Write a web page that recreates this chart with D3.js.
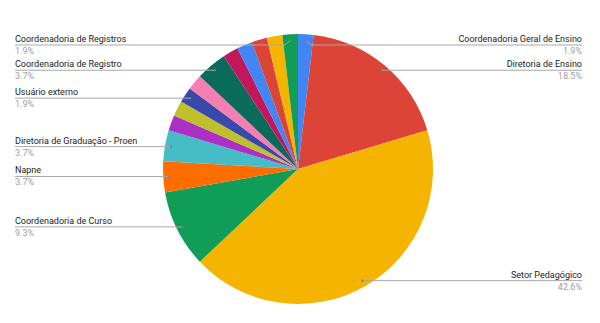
<!DOCTYPE html>
<html>
<head>
<meta charset="utf-8">
<script src="https://cdn.jsdelivr.net/npm/d3@7"></script>
<style>
  body { margin: 0; background: #fff; }
  svg { display: block; font-family: Roboto, Arial, sans-serif; }
</style>
</head>
<body>
<div id="chart"></div>
<script>
// categories in drawing order (clockwise from 12 o'clock)
const categories = [
  'Coordenadoria Geral de Ensino',
  'Diretoria de Ensino',
  'Setor Pedagógico',
  'Coordenadoria de Curso',
  'Napne',
  'Diretoria de Graduação - Proen',
  'Outro setor 1',
  'Outro setor 2',
  'Usuário externo',
  'Outro setor 3',
  'Coordenadoria de Registro',
  'Outro setor 4',
  'Outro setor 5',
  'Outro setor 6',
  'Outro setor 7',
  'Coordenadoria de Registros'
];
const counts = [1, 10, 23, 5, 2, 2, 1, 1, 1, 1, 2, 1, 1, 1, 1, 1];
const sliceColors = [
  '#4285F4', '#DB4437', '#F4B400', '#0F9D58', '#FF6D00', '#46BDC6',
  '#AB30C4', '#C0C02C', '#3949AB', '#F77EB3', '#0B6B5A', '#C2185B',
  '#4285F4', '#DB4437', '#F4B400', '#0F9D58'
];
// slices that carry an outside label
const labeled = [
  'Coordenadoria Geral de Ensino', 'Diretoria de Ensino', 'Setor Pedagógico',
  'Coordenadoria de Curso', 'Napne', 'Diretoria de Graduação - Proen',
  'Usuário externo', 'Coordenadoria de Registro', 'Coordenadoria de Registros'
];

const width = 600, height = 323;
const cx = 298, cy = 169, radius = 135;
const total = d3.sum(counts);

const data = categories.map(function(c, i) {
  return { name: c, value: counts[i], color: sliceColors[i] };
});

const svg = d3.select('#chart').append('svg')
  .attr('width', width)
  .attr('height', height);

const g = svg.append('g')
  .attr('transform', 'translate(' + cx + ',' + cy + ')');

const pie = d3.pie().sort(null).value(function(d) { return d.value; });
const arc = d3.arc().innerRadius(0).outerRadius(radius);
const arcs = pie(data);

g.selectAll('path')
  .data(arcs)
  .enter().append('path')
    .attr('d', arc)
    .attr('fill', function(d) { return d.data.color; });

// label layout
const dotR = radius * 0.955;
let labels = arcs.filter(function(d) { return labeled.indexOf(d.data.name) >= 0; })
  .map(function(d) {
    const a = (d.startAngle + d.endAngle) / 2;
    return {
      name: d.data.name,
      pct: (d.data.value / total * 100).toFixed(1) + '%',
      x: cx + dotR * Math.sin(a),
      y: cy - dotR * Math.cos(a),
      side: a < Math.PI ? 'right' : 'left'
    };
  });

['left', 'right'].forEach(function(side) {
  const items = labels.filter(function(l) { return l.side === side; })
    .sort(function(a, b) { return a.y - b.y; });
  let prev = -Infinity;
  items.forEach(function(l) {
    l.ly = Math.max(l.y, prev + 24, 45);
    prev = l.ly;
  });
});

const lg = svg.append('g');

lg.selectAll('path.leader')
  .data(labels)
  .enter().append('path')
    .attr('class', 'leader')
    .attr('fill', 'none')
    .attr('stroke', '#a8a8a8')
    .attr('stroke-width', 1)
    .attr('d', function(l) {
      const endX = l.side === 'left' ? 15 : 582;
      return 'M' + l.x + ',' + l.y + 'L' + (l.side === 'left' ? l.x - 6 : l.x + 6) + ',' + l.ly + 'L' + endX + ',' + l.ly;
    });

lg.selectAll('rect.dot')
  .data(labels)
  .enter().append('rect')
    .attr('class', 'dot')
    .attr('x', function(l) { return l.x - 1; })
    .attr('y', function(l) { return l.y - 1; })
    .attr('width', 2)
    .attr('height', 2)
    .attr('fill', '#7a7a7a');

lg.selectAll('text.name')
  .data(labels)
  .enter().append('text')
    .attr('class', 'name')
    .attr('x', function(l) { return l.side === 'left' ? 15 : 582; })
    .attr('y', function(l) { return l.ly - 3; })
    .attr('text-anchor', function(l) { return l.side === 'left' ? 'start' : 'end'; })
    .style('font-size', '9px')
    .style('fill', '#222')
    .text(function(l) { return l.name; });

lg.selectAll('text.pct')
  .data(labels)
  .enter().append('text')
    .attr('class', 'pct')
    .attr('x', function(l) { return l.side === 'left' ? 15 : 582; })
    .attr('y', function(l) { return l.ly + 9; })
    .attr('text-anchor', function(l) { return l.side === 'left' ? 'start' : 'end'; })
    .style('font-size', '9px')
    .style('fill', '#9e9e9e')
    .text(function(l) { return l.pct; });
</script>
</body>
</html>
